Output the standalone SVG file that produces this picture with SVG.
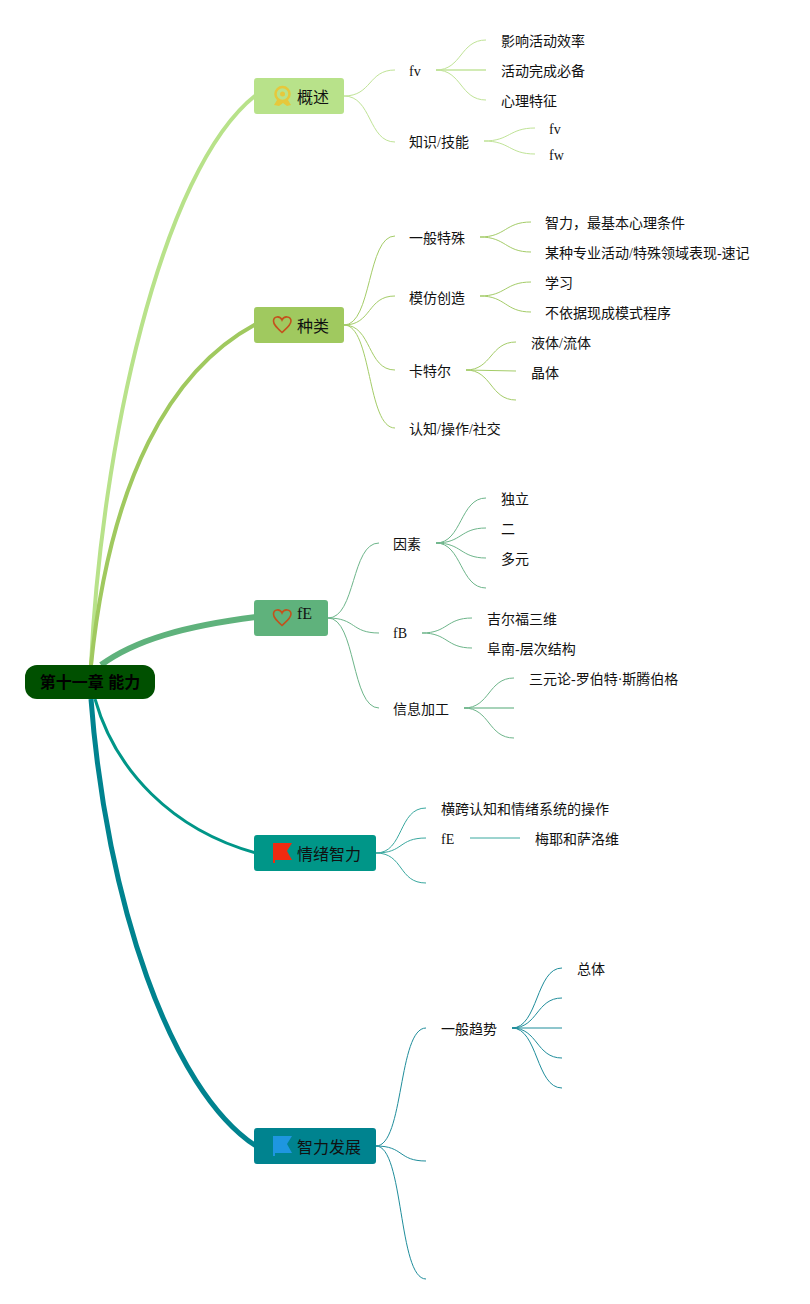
<svg xmlns="http://www.w3.org/2000/svg" width="810" height="1304" viewBox="0 0 810 1304">
<style>
text{font-family:"Liberation Serif","Noto Sans CJK SC",serif;font-size:14px;fill:#111}
.t{font-size:16px}
.r{font-family:"Liberation Sans","Noto Sans CJK SC",sans-serif;font-size:16px;font-weight:bold;text-anchor:middle;fill:#000}
.c path,.c line{fill:none;stroke-width:1}
.a path{stroke:#bfe396}.b path{stroke:#a4cc68}.d path,.d line{stroke:#6db58a}.e path,.e line{stroke:#3aa89f}.f path{stroke:#1f8d9b}
.m{fill:none}
</style>
<g id="connectors">
<g class="m">
<path d="M91 665C101 450 160 170 256 95" stroke="#b8e28a" stroke-width="4"/>
<path d="M91 665C110 480 170 370 256 324" stroke="#a0c95f" stroke-width="4"/>
<path d="M101 665C135 640 185 626 256 617" stroke="#5fb27c" stroke-width="6"/>
<path d="M95 699C115 770 172 830 256 853" stroke="#009688" stroke-width="3"/>
<path d="M91 699C106 900 170 1090 256 1146" stroke="#00838f" stroke-width="5"/>
</g>
<g class="c a">
<path d="M344 96C372 96 368 70 395 70"/><path d="M344 96C372 96 368 142 395 142"/>
<path d="M436 70C462 70 460 40 486 40"/><path d="M436 70H486" style="stroke-width:2;opacity:.7"/><path d="M436 70C462 70 460 100 486 100"/>
<path d="M484 141C510 141 509 128 535 128"/><path d="M484 141C510 141 509 154 535 154"/>
</g>
<g class="c b">
<path d="M344 325C372 325 367 236 395 236"/><path d="M344 325C372 325 367 296 395 296"/><path d="M344 325C372 325 367 370 395 370"/><path d="M344 325C372 325 367 428 395 428"/>
<path d="M480 237C506 237 505 222 531 222"/><path d="M480 237C506 237 505 252 531 252"/>
<path d="M480 296C506 296 505 282 531 282"/><path d="M480 296C506 296 505 312 531 312"/>
<path d="M466 370C492 370 490 342 516 342"/><path d="M466 370L516 371"/><path d="M466 370C492 370 490 400 516 400"/>
</g>
<g class="c d">
<path d="M328 618C356 618 351 543 379 543"/><path d="M328 618C356 618 351 633 379 633"/><path d="M328 618C356 618 351 708 379 708"/>
<path d="M436 543C462 543 460 498 486 498"/><path d="M436 543C462 543 460 528 486 528"/><path d="M436 543C462 543 460 558 486 558"/><path d="M436 543C462 543 460 588 486 588"/>
<path d="M422 633C448 633 446 618 472 618"/><path d="M422 633C448 633 446 648 472 648"/>
<path d="M464 708C490 708 488 678 514 678"/><path d="M464 708H514" style="stroke-width:2;opacity:.6"/><path d="M464 708C490 708 488 738 514 738"/>
</g>
<g class="c e">
<path d="M376 853C404 853 398 808 426 808"/><path d="M376 853C404 853 398 838 426 838"/><path d="M376 853C404 853 398 883 426 883"/>
<line x1="470" y1="838" x2="520" y2="838"/>
</g>
<g class="c f">
<path d="M376 1146C404 1146 398 1028 426 1028"/><path d="M376 1146C404 1146 398 1161 426 1161"/><path d="M376 1146C404 1146 398 1279 426 1279"/>
<path d="M512 1028C538 1028 536 968 562 968"/><path d="M512 1028C538 1028 536 998 562 998"/><path d="M512 1028H562"/><path d="M512 1028C538 1028 536 1058 562 1058"/><path d="M512 1028C538 1028 536 1088 562 1088"/>
</g>
</g>
<g id="root"><rect x="25" y="665" width="130" height="34" rx="12" fill="#005000"/><text class="r" x="90" y="688">第十一章 能力</text></g>
<g id="n1"><rect x="254" y="78" width="90" height="36" rx="3" fill="#b8e28a"/>
<circle cx="282.500" cy="94" r="7" fill="none" stroke="#e6c83c" stroke-width="2.500"/><circle cx="282.500" cy="94" r="2.500" fill="#e6c83c"/><path d="M277 100L274 105L279 106L283 103L287 106L291 105L288 100Z" fill="#e6c83c"/>
<text class="t" x="297" y="103">概述</text></g>
<g id="n2"><rect x="254" y="307" width="90" height="36" rx="3" fill="#a0c95f"/>
<path d="M282 332.500C277 328 273.500 325 273.500 321C273.500 316 280 315.500 282 320C284 315.500 291 316 291 321C291 325 287 328 282 332.500Z" fill="none" stroke="#c4511c" stroke-width="1.600"/>
<text class="t" x="297" y="332">种类</text></g>
<g id="n3"><rect x="254" y="600" width="74" height="36" rx="3" fill="#5fb27c"/>
<path d="M282 625.500C277 621 273.500 618 273.500 614C273.500 609 280 608.500 282 613C284 608.500 291 609 291 614C291 618 287 621 282 625.500Z" fill="none" stroke="#c4511c" stroke-width="1.600"/>
<text class="t" x="297" y="619">fE</text></g>
<g id="n4"><rect x="254" y="835" width="122" height="36" rx="3" fill="#009688"/>
<path d="M273 843H292L287 851L292 860H275V863H273Z" fill="#f02a10"/>
<text class="t" x="297" y="860">情绪智力</text></g>
<g id="n5"><rect x="254" y="1128" width="122" height="36" rx="3" fill="#00838f"/>
<path d="M273 1136H292L287 1144L292 1153H275V1156H273Z" fill="#1e96e0"/>
<text class="t" x="297" y="1153">智力发展</text></g>
<g id="labels">
<text x="409" y="76">fv</text><text x="409" y="147">知识/技能</text>
<text x="501" y="46">影响活动效率</text><text x="501" y="76">活动完成必备</text><text x="501" y="106">心理特征</text>
<text x="549" y="134">fv</text><text x="549" y="160">fw</text>
<text x="409" y="243">一般特殊</text><text x="409" y="303">模仿创造</text><text x="409" y="376">卡特尔</text><text x="409" y="434">认知/操作/社交</text>
<text x="545" y="228">智力，最基本心理条件</text><text x="545" y="258">某种专业活动/特殊领域表现-速记</text>
<text x="545" y="288">学习</text><text x="545" y="318">不依据现成模式程序</text>
<text x="531" y="348">液体/流体</text><text x="531" y="378">晶体</text>
<text x="393" y="549">因素</text><text x="393" y="638">fB</text><text x="393" y="714">信息加工</text>
<text x="501" y="504">独立</text><text x="501" y="534">二</text><text x="501" y="564">多元</text>
<text x="487" y="624">吉尔福三维</text><text x="487" y="654">阜南-层次结构</text>
<text x="529" y="684">三元论-罗伯特·斯腾伯格</text>
<text x="441" y="814">横跨认知和情绪系统的操作</text><text x="441" y="844">fE</text><text x="535" y="844">梅耶和萨洛维</text>
<text x="441" y="1034">一般趋势</text><text x="577" y="974">总体</text>
</g>
</svg>
